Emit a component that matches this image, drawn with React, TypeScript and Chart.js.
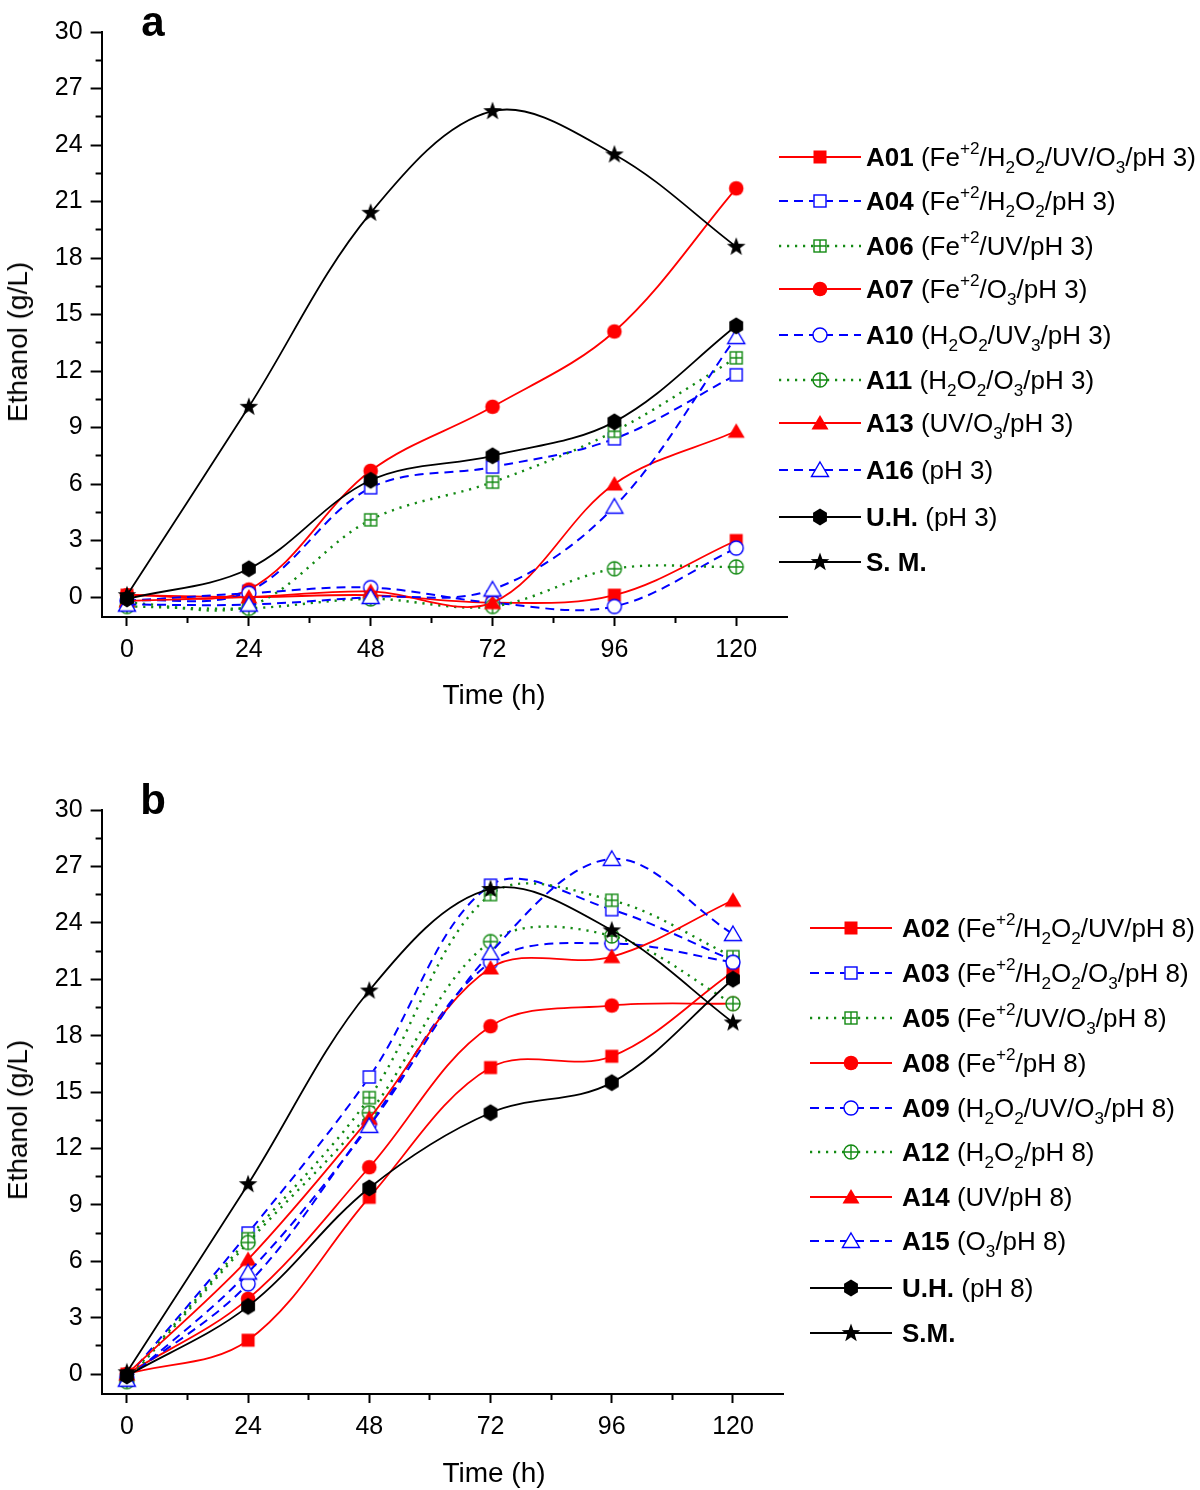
import React, { useEffect, useMemo, useRef } from 'react';
import { Chart, registerables } from 'chart.js';

Chart.register(...registerables);

const FONT = '"Liberation Sans", Arial, Helvetica, sans-serif';

// ---------- axes ----------
const hours = [0, 24, 48, 72, 96, 120];
const xTickValues = [0, 12, 24, 36, 48, 60, 72, 84, 96, 108, 120];
const xLabelValues = [0, 24, 48, 72, 96, 120];
const yTickValues = [0, 1.5, 3, 4.5, 6, 7.5, 9, 10.5, 12, 13.5, 15, 16.5, 18, 19.5, 21, 22.5, 24, 25.5, 27, 28.5, 30];
const yLabelValues = [0, 3, 6, 9, 12, 15, 18, 21, 24, 27, 30];

// ---------- panel a (pH 3) ----------
const a01 = [0.1, 0.0, 0.1, -0.3, 0.1, 3.0];
const a04 = [-0.2, 0.3, 5.8, 6.9, 8.4, 11.8];
const a06 = [-0.3, -0.5, 4.1, 6.1, 8.8, 12.7];
const a07 = [0.1, 0.4, 6.7, 10.1, 14.1, 21.7];
const a10 = [-0.2, 0.2, 0.5, -0.3, -0.5, 2.6];
const a11 = [-0.5, -0.6, -0.1, -0.5, 1.5, 1.6];
const a13 = [-0.2, 0.0, 0.3, -0.3, 6.0, 8.8];
const a16 = [-0.4, -0.4, 0.0, 0.4, 4.8, 13.8];
const uhPH3 = [-0.1, 1.5, 6.2, 7.5, 9.3, 14.4];
const smPH3 = [0.1, 10.1, 20.4, 25.8, 23.5, 18.6];

// ---------- panel b (pH 8) ----------
const a02 = [0.0, 1.8, 9.4, 16.3, 16.9, 21.4];
const a03 = [-0.2, 7.5, 15.8, 26.0, 24.7, 22.0];
const a05 = [-0.3, 7.2, 14.7, 25.5, 25.2, 22.2];
const a08 = [0.0, 4.0, 11.0, 18.5, 19.6, 19.7];
const a09 = [-0.2, 4.8, 13.3, 21.9, 22.9, 21.9];
const a12 = [-0.4, 7.0, 13.9, 23.0, 23.3, 19.7];
const a14 = [0.0, 6.1, 13.6, 21.6, 22.2, 25.2];
const a15 = [-0.3, 5.4, 13.2, 22.4, 27.4, 23.4];
const uhPH8 = [-0.1, 3.6, 9.9, 13.9, 15.5, 21.0];
const smPH8 = [0.1, 10.1, 20.4, 25.8, 23.6, 18.7];

// ---------- legend texts ----------
const codesA = ['A01', 'A04', 'A06', 'A07', 'A10', 'A11', 'A13', 'A16', 'U.H.', 'S. M.'];
const textsA = [
  '(Fe^{+2}/H_{2}O_{2}/UV/O_{3}/pH 3)',
  '(Fe^{+2}/H_{2}O_{2}/pH 3)',
  '(Fe^{+2}/UV/pH 3)',
  '(Fe^{+2}/O_{3}/pH 3)',
  '(H_{2}O_{2}/UV_{3}/pH 3)',
  '(H_{2}O_{2}/O_{3}/pH 3)',
  '(UV/O_{3}/pH 3)',
  '(pH 3)',
  '(pH 3)',
  '',
];
const valuesA = [a01, a04, a06, a07, a10, a11, a13, a16, uhPH3, smPH3];

const codesB = ['A02', 'A03', 'A05', 'A08', 'A09', 'A12', 'A14', 'A15', 'U.H.', 'S.M.'];
const textsB = [
  '(Fe^{+2}/H_{2}O_{2}/UV/pH 8)',
  '(Fe^{+2}/H_{2}O_{2}/O_{3}/pH 8)',
  '(Fe^{+2}/UV/O_{3}/pH 8)',
  '(Fe^{+2}/pH 8)',
  '(H_{2}O_{2}/UV/O_{3}/pH 8)',
  '(H_{2}O_{2}/pH 8)',
  '(UV/pH 8)',
  '(O_{3}/pH 8)',
  '(pH 8)',
  '',
];
const valuesB = [a02, a03, a05, a08, a09, a12, a14, a15, uhPH8, smPH8];

// ---------- styles (same sequence in both panels) ----------
const RED = '#ff0000';
const BLUE = '#0000ff';
const GREEN = '#138a13';
const BLACK = '#000000';
const DASH = [9, 6];
const DOT = [2.2, 5.8];

type SeriesStyle = { color: string; dash: number[]; marker: string; width: number };
const seriesStyles: SeriesStyle[] = [
  { color: RED, dash: [], marker: 'squareFill', width: 1.8 },
  { color: BLUE, dash: DASH, marker: 'square', width: 2 },
  { color: GREEN, dash: DOT, marker: 'squareCross', width: 2.4 },
  { color: RED, dash: [], marker: 'circleFill', width: 1.8 },
  { color: BLUE, dash: DASH, marker: 'circle', width: 2 },
  { color: GREEN, dash: DOT, marker: 'circleCross', width: 2.4 },
  { color: RED, dash: [], marker: 'triangleFill', width: 1.8 },
  { color: BLUE, dash: DASH, marker: 'triangle', width: 2 },
  { color: BLACK, dash: [], marker: 'hexFill', width: 1.8 },
  { color: BLACK, dash: [], marker: 'starFill', width: 1.8 },
];

function makeMarker(kind: string, color: string): HTMLCanvasElement {
  const S = 22;
  const c = document.createElement('canvas');
  c.width = S;
  c.height = S;
  const g = c.getContext('2d') as CanvasRenderingContext2D;
  const cx = S / 2;
  const cy = S / 2;
  g.lineWidth = 1.4;
  g.strokeStyle = color;
  g.fillStyle = color;
  const poly = (pts: number[][]) => {
    g.beginPath();
    pts.forEach((p, i) => (i === 0 ? g.moveTo(p[0], p[1]) : g.lineTo(p[0], p[1])));
    g.closePath();
  };
  const cross = (r: number) => {
    g.beginPath();
    g.moveTo(cx, cy - r);
    g.lineTo(cx, cy + r);
    g.moveTo(cx - r, cy);
    g.lineTo(cx + r, cy);
    g.stroke();
  };
  const tri = [
    [cx, cy - 8],
    [cx + 8.5, cy + 6.5],
    [cx - 8.5, cy + 6.5],
  ];
  switch (kind) {
    case 'squareFill':
      g.fillRect(cx - 6.5, cy - 6.5, 13, 13);
      break;
    case 'square':
    case 'squareCross':
      g.fillStyle = '#fff';
      g.fillRect(cx - 6.5, cy - 6.5, 13, 13);
      g.strokeRect(cx - 6, cy - 6, 12, 12);
      if (kind === 'squareCross') cross(6);
      break;
    case 'circleFill':
      g.beginPath();
      g.arc(cx, cy, 7.3, 0, Math.PI * 2);
      g.fill();
      break;
    case 'circle':
    case 'circleCross':
      g.beginPath();
      g.arc(cx, cy, 7, 0, Math.PI * 2);
      g.fillStyle = '#fff';
      g.fill();
      g.stroke();
      if (kind === 'circleCross') cross(7);
      break;
    case 'triangleFill':
      poly(tri);
      g.fill();
      break;
    case 'triangle':
      poly(tri);
      g.fillStyle = '#fff';
      g.fill();
      g.stroke();
      break;
    case 'hexFill': {
      const pts: number[][] = [];
      for (let i = 0; i < 6; i++) {
        const a = -Math.PI / 2 + (i * Math.PI) / 3;
        pts.push([cx + 8 * Math.cos(a), cy + 8.6 * Math.sin(a)]);
      }
      poly(pts);
      g.fill();
      break;
    }
    case 'starFill': {
      const pts: number[][] = [];
      for (let i = 0; i < 10; i++) {
        const a = -Math.PI / 2 + (i * Math.PI) / 5;
        const r = i % 2 === 0 ? 9.8 : 4;
        pts.push([cx + r * Math.cos(a), cy + 0.3 + r * Math.sin(a)]);
      }
      poly(pts);
      g.fill();
      break;
    }
  }
  return c;
}

function renderRich(text: string) {
  const parts: React.ReactNode[] = [];
  const re = /([_^])\{([^}]*)\}/g;
  let last = 0;
  let k = 0;
  let m: RegExpExecArray | null;
  while ((m = re.exec(text))) {
    if (m.index > last) parts.push(text.slice(last, m.index));
    const sup = m[1] === '^';
    parts.push(
      <span key={k++} style={{ fontSize: '0.66em', position: 'relative', top: sup ? '-0.72em' : '0.42em' }}>
        {m[2]}
      </span>
    );
    last = re.lastIndex;
  }
  if (last < text.length) parts.push(text.slice(last));
  return parts;
}

type PanelCfg = {
  letter: string;
  top: number;
  canvasW: number;
  canvasH: number;
  chartRight: number;
  chartTop: number;
  chartBottom: number;
  legendLineX: number;
  legendTextX: number;
  legendYs: number[];
  yTitleY: number;
  xTitleY: number;
  codes: string[];
  texts: string[];
  values: number[][];
};

const Y_AXIS_WIDTH = 101.6;

function Panel({ cfg, markers }: { cfg: PanelCfg; markers: HTMLCanvasElement[] }) {
  const ref = useRef<HTMLCanvasElement | null>(null);

  useEffect(() => {
    if (!ref.current) return;
    const n = cfg.values.length;
    const datasets = cfg.values.map((vals, i) => {
      const st = seriesStyles[i];
      return {
        label: cfg.codes[i],
        data: hours.map((h, j) => ({ x: h, y: vals[j] })),
        borderColor: st.color,
        backgroundColor: st.color,
        borderWidth: st.width,
        borderDash: st.dash,
        pointStyle: markers[i],
        pointRadius: 7,
        pointHoverRadius: 7,
        tension: 0.35,
        fill: false,
        order: n - i,
      };
    });
    const xMajor = (v: number) => xLabelValues.includes(v);
    const yMajor = (v: number) => yLabelValues.includes(v);
    const chart = new Chart(ref.current, {
      type: 'line',
      data: { datasets },
      options: {
        animation: false,
        responsive: false,
        devicePixelRatio: 1,
        events: [],
        layout: {
          padding: { top: cfg.chartTop, right: cfg.canvasW - cfg.chartRight, left: 0, bottom: 0 },
        },
        plugins: { legend: { display: false }, tooltip: { enabled: false } },
        scales: {
          x: {
            type: 'linear',
            min: -5,
            max: 130,
            afterBuildTicks: (s: any) => {
              s.ticks = xTickValues.map((v) => ({ value: v }));
            },
            afterFit: (s: any) => {
              s.height = cfg.canvasH - cfg.chartBottom;
            },
            border: { display: true, color: '#000', width: 2 },
            grid: {
              drawOnChartArea: false,
              drawTicks: true,
              tickLength: 9,
              tickColor: '#000',
              tickWidth: 2,
              tickBorderDash: (ctx: any) => (ctx.tick && xMajor(ctx.tick.value) ? [] : [5, 100]),
            },
            ticks: {
              autoSkip: false,
              maxRotation: 0,
              padding: 9,
              color: '#000',
              font: { family: FONT, size: 25 },
              callback: (v: any) => (xMajor(Number(v)) ? String(v) : ''),
            },
          },
          y: {
            type: 'linear',
            min: -1.06,
            max: 30,
            afterBuildTicks: (s: any) => {
              s.ticks = yTickValues.map((v) => ({ value: v }));
            },
            afterFit: (s: any) => {
              s.width = Y_AXIS_WIDTH;
            },
            border: { display: true, color: '#000', width: 2 },
            grid: {
              drawOnChartArea: false,
              drawTicks: true,
              tickLength: 11,
              tickColor: '#000',
              tickWidth: 2,
              tickBorderDash: (ctx: any) => (ctx.tick && yMajor(ctx.tick.value) ? [] : [0, 5, 6, 100]),
            },
            ticks: {
              autoSkip: false,
              padding: 8,
              color: '#000',
              font: { family: FONT, size: 25 },
              callback: (v: any) => (yMajor(Number(v)) ? String(v) : ''),
            },
          },
        },
      } as any,
    });
    return () => chart.destroy();
  }, [cfg, markers]);

  const markerUrls = useMemo(() => markers.map((m) => m.toDataURL()), [markers]);

  return (
    <>
      <canvas
        ref={ref}
        width={cfg.canvasW}
        height={cfg.canvasH}
        style={{ position: 'absolute', left: 0, top: cfg.top, width: cfg.canvasW, height: cfg.canvasH }}
      />
      <div
        style={{
          position: 'absolute',
          left: 153,
          top: cfg.top + 22,
          transform: 'translate(-50%, -50%)',
          fontSize: 42,
          fontWeight: 'bold',
          lineHeight: 1,
        }}
      >
        {cfg.letter}
      </div>
      <div
        style={{
          position: 'absolute',
          left: 18,
          top: cfg.yTitleY,
          transform: 'translate(-50%, -50%) rotate(-90deg)',
          fontSize: 28,
          whiteSpace: 'nowrap',
          lineHeight: 1,
        }}
      >
        Ethanol (g/L)
      </div>
      <div
        style={{
          position: 'absolute',
          left: 494,
          top: cfg.xTitleY,
          transform: 'translate(-50%, -50%)',
          fontSize: 28,
          whiteSpace: 'nowrap',
          lineHeight: 1,
        }}
      >
        Time (h)
      </div>
      {cfg.codes.map((code, i) => {
        const st = seriesStyles[i];
        const y = cfg.legendYs[i];
        return (
          <div key={code} style={{ position: 'absolute', left: 0, top: y - 20, height: 40, width: 1200 }}>
            <svg width={82} height={40} style={{ position: 'absolute', left: cfg.legendLineX, top: 0 }}>
              <line
                x1={0}
                y1={20}
                x2={82}
                y2={20}
                stroke={st.color}
                strokeWidth={st.width}
                strokeDasharray={st.dash.length ? st.dash.join(' ') : undefined}
              />
            </svg>
            <img
              src={markerUrls[i]}
              style={{ position: 'absolute', left: cfg.legendLineX + 41 - 11, top: 9, width: 22, height: 22 }}
            />
            <div
              style={{
                position: 'absolute',
                left: cfg.legendTextX,
                top: 0,
                height: 40,
                lineHeight: '40px',
                fontSize: 26,
                whiteSpace: 'nowrap',
              }}
            >
              <b>{code}</b>
              {cfg.texts[i] ? ' ' : ''}
              {renderRich(cfg.texts[i])}
            </div>
          </div>
        );
      })}
    </>
  );
}

const panelA: PanelCfg = {
  letter: 'a',
  top: 0,
  canvasW: 800,
  canvasH: 680,
  chartRight: 787,
  chartTop: 32,
  chartBottom: 617,
  legendLineX: 779,
  legendTextX: 866,
  legendYs: [157, 201, 246, 289, 335, 380, 423, 470, 517, 562],
  yTitleY: 342,
  xTitleY: 695,
  codes: codesA,
  texts: textsA,
  values: valuesA,
};

const panelB: PanelCfg = {
  letter: 'b',
  top: 778,
  canvasW: 800,
  canvasH: 680,
  chartRight: 783.5,
  chartTop: 32,
  chartBottom: 616,
  legendLineX: 810,
  legendTextX: 902,
  legendYs: [928, 973, 1018, 1063, 1108, 1152, 1197, 1241, 1288, 1333],
  yTitleY: 1120,
  xTitleY: 1473,
  codes: codesB,
  texts: textsB,
  values: valuesB,
};

export default function App() {
  const markers = useMemo(() => seriesStyles.map((s) => makeMarker(s.marker, s.color)), []);
  return (
    <div
      style={{
        position: 'absolute',
        left: 0,
        top: 0,
        width: 1200,
        height: 1490,
        background: '#fff',
        overflow: 'hidden',
        fontFamily: FONT,
        color: '#000',
      }}
    >
      <Panel cfg={panelA} markers={markers} />
      <Panel cfg={panelB} markers={markers} />
    </div>
  );
}
